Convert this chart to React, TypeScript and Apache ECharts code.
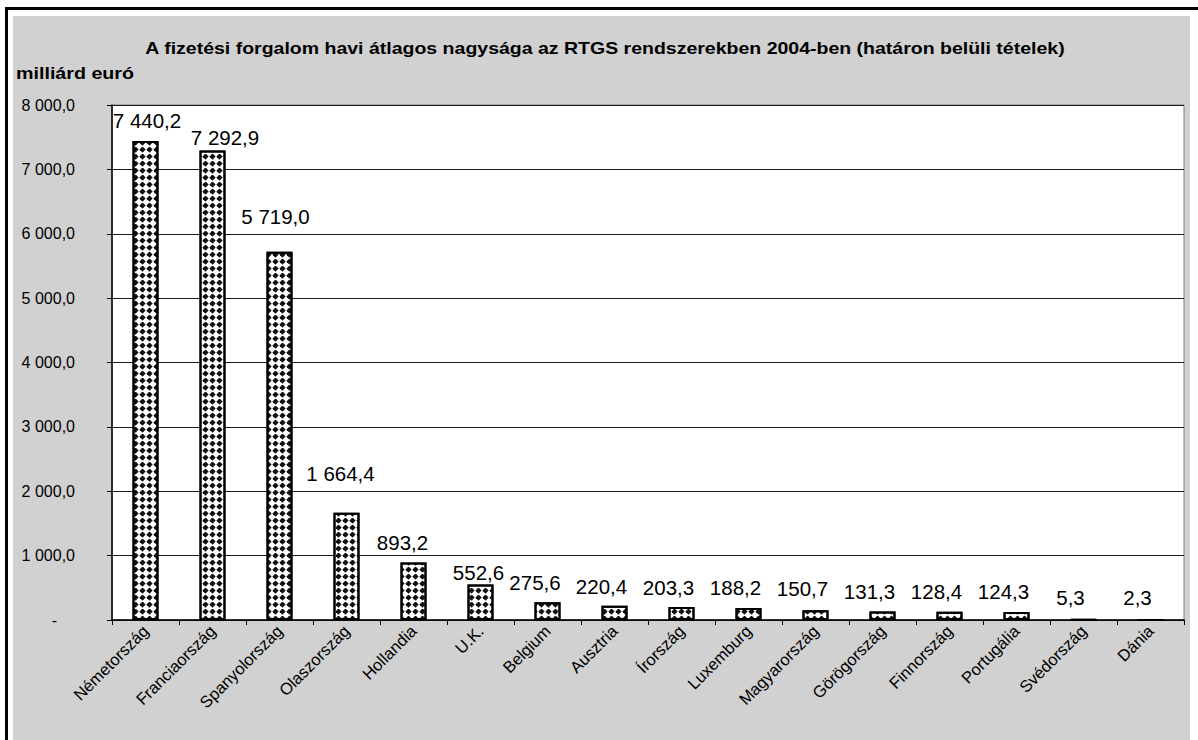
import React, { useEffect, useRef } from "react";
import * as echarts from "echarts";

const titleText =
  "A fizetési forgalom havi átlagos nagysága az RTGS rendszerekben 2004-ben (határon belüli tételek)";
const unitText = "milliárd euró";

const categories = [
  "Németország",
  "Franciaország",
  "Spanyolország",
  "Olaszország",
  "Hollandia",
  "U.K.",
  "Belgium",
  "Ausztria",
  "Írország",
  "Luxemburg",
  "Magyarország",
  "Görögország",
  "Finnország",
  "Portugália",
  "Svédország",
  "Dánia",
];

const values = [
  7440.2, 7292.9, 5719.0, 1664.4, 893.2, 552.6, 275.6, 220.4, 203.3, 188.2,
  150.7, 131.3, 128.4, 124.3, 5.3, 2.3,
];

// manual label nudges (as in the original Excel chart)
const labelOffsets: [number, number][] = [
  [1.5, -5],
  [12.5, 2],
  [-4, -20],
  [-6, -24],
  [-11, -5],
  [-2, 4],
  [-12.5, -4],
  [-13, -4],
  [-13, -4],
  [-13, -5],
  [-13, -6],
  [-13, -5],
  [-13, -5],
  [-13, -5],
  [-13, -6],
  [-13, -6],
];

const yMin = 0;
const yMax = 8000;
const yInterval = 1000;

const FONT = "'Liberation Sans', Arial, sans-serif";

function fmt(v: number): string {
  const s = v.toFixed(1);
  const [intPart, dec] = s.split(".");
  const withSep = intPart.replace(/\B(?=(\d{3})+(?!\d))/g, " ");
  return withSep + "," + dec;
}

export default function App() {
  const ref = useRef<HTMLDivElement>(null);

  useEffect(() => {
    document.body.style.margin = "0";
    if (!ref.current) return;
    const chart = echarts.init(ref.current, undefined, { renderer: "svg" });

    const option: any = {
      animation: false,
      backgroundColor: "#ffffff",
      graphic: [
        {
          type: "rect",
          z: -10,
          shape: { x: 13, y: 16, width: 1177, height: 724 },
          style: { fill: "#d1d1d1" },
          silent: true,
        },
        {
          type: "rect",
          z: -10,
          shape: { x: 5, y: 7, width: 1193, height: 3 },
          style: { fill: "#000" },
          silent: true,
        },
        {
          type: "rect",
          z: -10,
          shape: { x: 5, y: 7, width: 3, height: 733 },
          style: { fill: "#000" },
          silent: true,
        },
        {
          type: "text",
          x: 605,
          y: 49,
          scaleX: 1.22,
          style: {
            text: titleText,
            font: `bold 16px ${FONT}`,
            fill: "#000",
            textAlign: "center",
            textVerticalAlign: "middle",
          },
        },
        {
          type: "text",
          x: 16,
          y: 74,
          scaleX: 1.23,
          style: {
            text: unitText,
            font: `bold 16px ${FONT}`,
            fill: "#000",
            textAlign: "left",
            textVerticalAlign: "middle",
          },
        },
      ],
      grid: {
        left: 112,
        top: 105,
        right: 14,
        bottom: 120,
        show: true,
        backgroundColor: "#ffffff",
        borderColor: "#808080",
        borderWidth: 1,
      },
      xAxis: {
        type: "category",
        data: categories,
        axisLine: { show: true, lineStyle: { color: "#000", width: 1.5 } },
        axisTick: {
          show: true,
          interval: 0,
          length: 5,
          lineStyle: { color: "#000" },
        },
        axisLabel: {
          interval: 0,
          rotate: 45,
          margin: 8,
          fontSize: 16.5,
          fontFamily: FONT,
          color: "#000",
        },
      },
      yAxis: {
        type: "value",
        min: yMin,
        max: yMax,
        interval: yInterval,
        axisLine: { show: true, lineStyle: { color: "#000", width: 1.5 } },
        axisTick: { show: true, length: 5, lineStyle: { color: "#000" } },
        splitLine: { show: true, lineStyle: { color: "#1a1a1a", width: 1 } },
        axisLabel: {
          margin: 37,
          fontSize: 16,
          fontFamily: FONT,
          color: "#000",
          formatter: (v: number) => (v === 0 ? "{z|-}" : fmt(v)),
          rich: {
            z: {
              fontSize: 16,
              fontFamily: FONT,
              color: "#000",
              padding: [0, 18, 0, 0],
            },
          },
        },
      },
      series: [
        {
          type: "bar",
          barWidth: 26,
          data: values.map((v, i) => ({
            value: v,
            label: { offset: labelOffsets[i] },
          })),
          itemStyle: {
            color: "#ffffff",
            borderColor: "#000",
            borderWidth: 2,
            decal: {
              symbol: "diamond",
              symbolSize: 1.25,
              color: "#111",
              backgroundColor: "#ffffff",
              dashArrayX: [5, 1.6],
              dashArrayY: [4.4, 1.6],
              rotation: 0,
            },
          },
          label: {
            show: true,
            position: "top",
            distance: 5,
            fontSize: 20.5,
            fontFamily: FONT,
            color: "#000",
            formatter: (p: any) => fmt(p.value),
          },
        },
      ],
    };

    chart.setOption(option);
    return () => chart.dispose();
  }, []);

  return <div ref={ref} style={{ width: 1198, height: 740 }} />;
}
